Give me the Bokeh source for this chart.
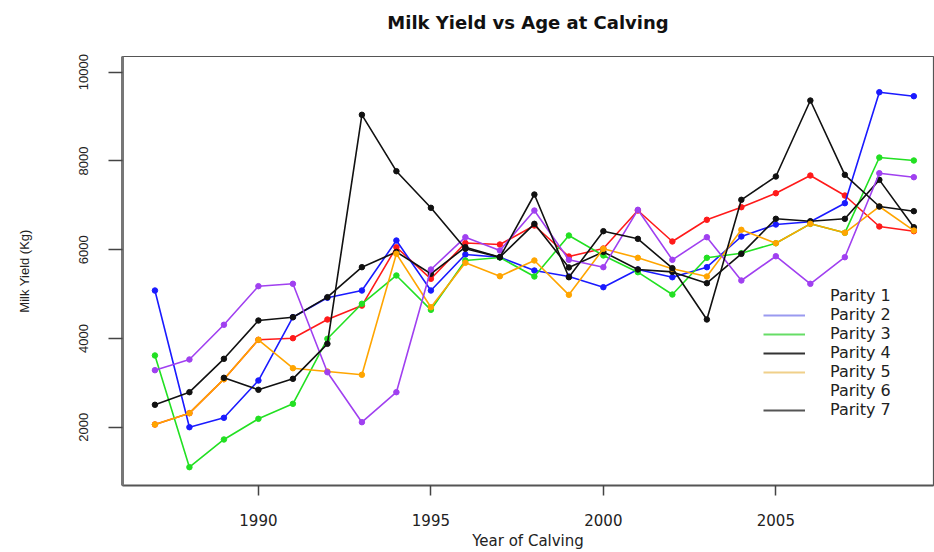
import numpy as np
from bokeh.plotting import figure
from bokeh.models import FixedTicker, Range1d, Legend, LegendItem
from bokeh.embed import file_html
from bokeh.resources import INLINE

nan = float("nan")
years = list(range(1987, 2010))

parity1 = [2061, 2316, 3082, 3969, 4006, 4427, 4740, 6056, 5344, 6150, 6117, 6545,
           5847, 6027, 6883, 6185, 6674, 6958, 7273, 7672, 7221, 6523, 6417]
parity2 = [5080, 2000, 2212, 3052, 4479, 4916, 5080, 6207, 5080, 5892, 5831, 5531,
           5396, 5155, 5554, 5380, 5606, 6297, 6568, 6630, 7048, 9549, 9459]
parity3 = [3616, 1099, 1723, 2189, 2527, 3992, 4781, 5419, 4645, 5757, 5824, 5396,
           6320, 5870, 5493, 4990, 5817, 5921, 6146, 6583, 6381, 8077, 8010]
parity4 = [2505, 2789, 3541, 4404, 4479, 4930, 5606, 5950, 5457, 6056, 5831, 6583,
           5600, 5950, 5554, 5500, 5245, 5907, 6696, 6642, 6696, 7574, 6507]
parity5 = [2061, 2316, 3082, 3969, 3330, 3255, 3181, 5907, 4704, 5705, 5403, 5757,
           4983, 6020, 5817, 5570, 5396, 6448, 6146, 6583, 6381, 6973, 6432]
parity6 = [3285, 3526, 4308, 5178, 5231, 3239, 2113, 2789, 5554, 6282, 5982, 6883,
           5772, 5606, 6899, 5772, 6282, 5306, 5853, 5231, 5831, 7724, 7634]
parity7 = [nan, nan, 3113, 2843, 3090, 3879, 9040, 7769, 6944, 6020, 5831, 7244,
           5380, 6417, 6245, 5583, 4427, 7124, 7650, 9362, 7687, 6973, 6868]

series = [parity1, parity2, parity3, parity4, parity5, parity6, parity7]
series_colors = ["#ff1a1a", "#1a1aff", "#22e022", "#111111", "#ffa500", "#a040f0", "#111111"]

legend_labels = ["Parity 1", "Parity 2", "Parity 3", "Parity 4", "Parity 5", "Parity 6", "Parity 7"]
legend_colors = ["#ffffff", "#9a9af0", "#66dd66", "#333333", "#f0d08a", "#ffffff", "#555555"]
legend_alpha = [0, 1, 1, 1, 1, 0, 1]

y_ticks = [2000, 4000, 6000, 8000, 10000]
x_ticks = [1990, 1995, 2000, 2005]
title_text = "Milk Yield vs Age at Calving"

FONT = "Liberation Sans"
WIDE = "DejaVu Sans"

p = figure(width=934, height=552, output_backend="svg", toolbar_location=None,
           x_range=Range1d(1986.06, 2009.57), y_range=Range1d(686, 10354),
           min_border_left=122, min_border_right=1, min_border_top=56, min_border_bottom=67)

# trailing blank line lifts the title towards the top of the page
p.title.text = title_text + "\n"
p.title.align = "center"
p.title.vertical_align = "bottom"
p.title.text_font = WIDE
p.title.text_font_size = "18px"
p.title.text_font_style = "bold"
p.title.text_color = "#111111"
p.title.standoff = 6

p.grid.visible = False
p.outline_line_color = "#555555"
p.outline_line_width = 1.2

p.xaxis.ticker = FixedTicker(ticks=x_ticks)
p.yaxis.ticker = FixedTicker(ticks=y_ticks)
p.xaxis.minor_tick_line_color = None
p.yaxis.minor_tick_line_color = None
p.xaxis.major_tick_in = 0
p.yaxis.major_tick_in = 0
p.xaxis.major_tick_out = 10
p.yaxis.major_tick_out = 14
p.xaxis.axis_line_color = "#555555"
p.xaxis.axis_line_width = 2
p.yaxis.axis_line_color = "#777777"
p.yaxis.axis_line_width = 3
p.axis.major_tick_line_color = "#444444"
p.axis.major_tick_line_width = 1.5
p.xaxis.major_label_text_font = WIDE
p.xaxis.major_label_text_font_size = "15px"
p.yaxis.major_label_text_font = FONT
p.yaxis.major_label_text_font_size = "13px"
p.axis.major_label_text_color = "#222222"
p.yaxis.major_label_orientation = "vertical"
p.xaxis.major_label_standoff = 18
p.yaxis.major_label_standoff = 20
p.xaxis.axis_label = "Year of Calving"
p.yaxis.axis_label = "Milk Yield (Kg)"
p.xaxis.axis_label_text_font = WIDE
p.xaxis.axis_label_text_font_size = "15px"
p.yaxis.axis_label_text_font = FONT
p.yaxis.axis_label_text_font_size = "13px"
p.axis.axis_label_text_font_style = "normal"
p.axis.axis_label_text_color = "#222222"
p.xaxis.axis_label_standoff = 3
p.yaxis.axis_label_standoff = 45

for vals, col in zip(series, series_colors):
    arr = np.array(vals, dtype=float)
    p.line(years, arr, line_color=col, line_width=1.6)
    p.scatter(years, arr, marker="circle", size=5.5, fill_color=col, line_color=col)

items = []
for lab, col, a in zip(legend_labels, legend_colors, legend_alpha):
    r = p.line([1900, 1901], [0, 0], line_color=col, line_width=2, line_alpha=a)
    items.append(LegendItem(label=lab, renderers=[r]))

legend = Legend(items=items, location=(641, 66), border_line_color=None,
                background_fill_alpha=0, padding=0, margin=0, spacing=0,
                label_height=18, glyph_height=18, glyph_width=42, label_standoff=25,
                label_text_font=WIDE, label_text_font_size="16px", label_text_color="#222222")
p.add_layout(legend)

open("out.html", "w").write(file_html(p, INLINE))
